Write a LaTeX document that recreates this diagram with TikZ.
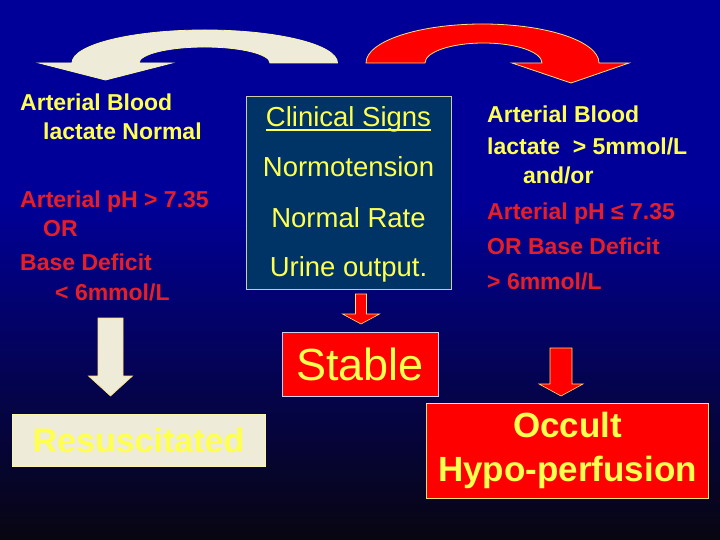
\documentclass[tikz,border=0pt]{standalone}
\usepackage{fontspec}
\setmainfont{Liberation Sans}
\definecolor{bgtop}{RGB}{0,0,153}
\definecolor{bgmid}{RGB}{18,18,95}
\definecolor{bgbot}{RGB}{8,6,16}
\definecolor{txtyellow}{RGB}{255,255,80}
\definecolor{txtred}{RGB}{232,30,38}
\definecolor{cream}{RGB}{238,236,216}
\definecolor{creamedge}{RGB}{250,245,170}
\definecolor{arrowred}{RGB}{255,0,0}
\definecolor{rededge}{RGB}{255,225,120}
\definecolor{signsblue}{RGB}{0,51,102}
\definecolor{signsedge}{RGB}{205,205,165}
\definecolor{stableedge}{RGB}{210,210,240}

\begin{document}
\begin{tikzpicture}[x=1bp, y=-1bp,
  sidetext/.style={anchor=base west, inner sep=0, font=\fontsize{23bp}{28bp}\selectfont\bfseries},
  yellowtext/.style={sidetext, text=txtyellow},
  redtext/.style={sidetext, text=txtred},
  signtext/.style={anchor=base, inner sep=0, text=txtyellow, font=\fontsize{27.5bp}{33bp}\selectfont},
  resultbox/.style={draw, line width=0.8bp, inner sep=0, align=center},
  pics/blockdown/.style n args={5}{code={
    \filldraw[fill=#1, draw=rededge, line width=0.6bp]
      (-#4,0) -- (#4,0) -- (#4,#2-#3) -- (#5,#2-#3) -- (0,#2)
      -- (-#5,#2-#3) -- (-#4,#2-#3) -- cycle;
  }}
]
  % Background
  \fill[bgtop] (0,0) rectangle (720,200);
  \shade[top color=bgtop, middle color=bgmid, bottom color=bgbot] (0,200) rectangle (720,540);

  % Curved arrows
  \filldraw[fill=cream, draw=creamedge, line width=0.8bp]
    (337.5,63) arc[start angle=0, end angle=-180, x radius=132.75, y radius=33]
    -- (39,63) -- (105.5,80) -- (172,63) -- (139,63)
    arc[start angle=-180, end angle=0, x radius=65.5, y radius=16] -- cycle;
  \filldraw[fill=arrowred, draw=rededge, line width=0.8bp]
    (366,63) arc[start angle=-180, end angle=0, x radius=116.5, y radius=39]
    -- (629,63) -- (571,83) -- (512,63) -- (542,63)
    arc[start angle=0, end angle=-180, x radius=58.5, y radius=20] -- cycle;

  % Left column
  \node[yellowtext] (lblood) at (20,110.7) {Arterial Blood};
  \node[yellowtext] (llactate) at (43,139.3) {lactate Normal};
  \node[redtext] (lph) at (20,208) {Arterial pH > 7.35};
  \node[redtext] (lor) at (43,236.7) {OR};
  \node[redtext] (lbase) at (20,270.7) {Base Deficit};
  \node[redtext] (lmmol) at (55,300) {< 6mmol/L};

  % Clinical signs
  \node[draw=signsedge, fill=signsblue, line width=0.8bp, minimum width=205bp, minimum height=193bp] (clinbox) at (348.5,192.5) {};
  \node[signtext] (clin1) at (348.5,126.7) {Clinical Signs};
  \node[signtext] (clin2) at (348.5,176.7) {Normotension};
  \node[signtext] (clin3) at (348.5,227.7) {Normal Rate};
  \node[signtext] (clin4) at (348.5,276.7) {Urine output.};
  \draw[txtyellow, line width=1.4bp] ([yshift=-3.5bp]clin1.base west) -- ([yshift=-3.5bp]clin1.base east);

  % Right column
  \node[yellowtext] (rblood) at (487,122.7) {Arterial Blood};
  \node[yellowtext] (rlactate) at (487,155) {lactate\ \ > 5mmol/L};
  \node[yellowtext] (randor) at (523,184) {and/or};
  \node[redtext] (rph) at (487,220) {Arterial pH ≤ 7.35};
  \node[redtext] (rbase) at (487,255) {OR Base Deficit};
  \node[redtext] (rmmol) at (487,289) {> 6mmol/L};

  % Results
  \node[resultbox, draw=stableedge, fill=arrowred, text=txtyellow, minimum width=156bp, minimum height=64bp,
    font=\fontsize{45bp}{50bp}\selectfont] (stable) at (360,364) {Stable};
  \node[resultbox, draw=creamedge, fill=cream, text=txtyellow, minimum width=253bp, minimum height=52bp,
    font=\fontsize{34bp}{40bp}\selectfont\bfseries] (resus) at (138.5,440) {Resuscitated};
  \node[resultbox, draw=rededge, fill=arrowred, text=txtyellow, minimum width=282bp, minimum height=95bp,
    font=\fontsize{35bp}{44bp}\selectfont\bfseries] (occult) at (567.5,450.5) {Occult\\Hypo-perfusion};

  % Down arrows
  \pic at (110.5,318) {blockdown={cream}{78}{20}{12.5}{22}};
  \pic at (361,294) {blockdown={arrowred}{30}{10}{5.5}{18.5}};
  \pic at (561,348) {blockdown={arrowred}{48}{12}{11}{22}};
\end{tikzpicture}
\end{document}
